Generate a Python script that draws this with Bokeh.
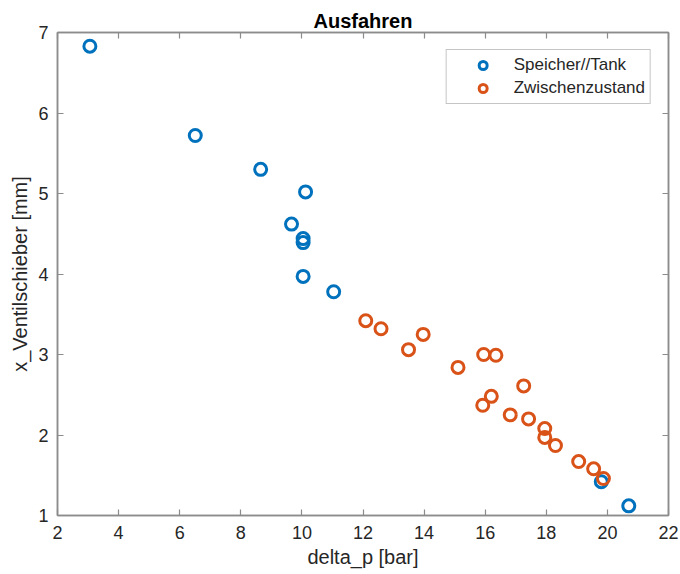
from bokeh.plotting import figure
from bokeh.models import Range1d, LinearAxis, FixedTicker, Legend, LegendItem
from bokeh.embed import file_html
from bokeh.resources import INLINE

# Data
tank_dp = [3.06, 6.51, 8.65, 10.12, 9.66, 10.04, 10.04, 10.04, 11.04, 19.80, 20.70]
tank_x = [6.83, 5.72, 5.30, 5.02, 4.62, 4.44, 4.39, 3.97, 3.78, 1.42, 1.12]

zw_dp = [12.09, 12.59, 13.49, 13.97, 15.11, 15.95, 16.35, 17.26, 16.20, 15.92,
         16.82, 17.42, 17.95, 17.95, 18.30, 19.06, 19.55, 19.87]
zw_x = [3.42, 3.32, 3.06, 3.25, 2.84, 3.00, 2.99, 2.61, 2.48, 2.37,
        2.25, 2.20, 2.08, 1.97, 1.87, 1.67, 1.58, 1.46]

x_ticks = [2, 4, 6, 8, 10, 12, 14, 16, 18, 20, 22]
y_ticks = [1, 2, 3, 4, 5, 6, 7]

BLUE = "#0072BD"
ORANGE = "#D95319"
FONT = "Liberation Sans"
AX = "#262626"
LINE = "#8c8c8c"

p = figure(width=680, height=574, output_backend="svg", toolbar_location=None,
           x_range=Range1d(2, 22), y_range=Range1d(1, 7),
           frame_width=611, frame_height=483,
           min_border_left=57, min_border_right=12, min_border_top=32, min_border_bottom=59,
           title="Ausfahren")
p.title.align = "center"
p.title.text_font = FONT
p.title.text_font_size = "20px"
p.title.text_font_style = "bold"
p.title.text_color = "#000000"
p.title.offset = 0
p.title.standoff = 1
p.grid.visible = False
p.outline_line_color = LINE
p.outline_line_width = 1.5
p.background_fill_color = "white"
p.border_fill_color = "white"

def style_axis(ax):
    ax.axis_line_color = LINE
    ax.axis_line_width = 1.5
    ax.major_tick_in = 6
    ax.major_tick_out = 0
    ax.major_tick_line_color = LINE
    ax.major_tick_line_width = 1.2
    ax.minor_tick_line_color = None
    ax.major_label_text_font = FONT
    ax.major_label_text_font_size = "18px"
    ax.major_label_text_color = AX
    ax.axis_label_text_font = FONT
    ax.axis_label_text_font_size = "20px"
    ax.axis_label_text_font_style = "normal"
    ax.axis_label_text_color = AX

p.xaxis.ticker = FixedTicker(ticks=x_ticks)
p.yaxis.ticker = FixedTicker(ticks=y_ticks)
p.xaxis.axis_label = "delta_p [bar]"
p.yaxis.axis_label = "x_Ventilschieber [mm]"
style_axis(p.xaxis[0])
style_axis(p.yaxis[0])
p.xaxis.major_label_standoff = 10
p.yaxis.major_label_standoff = 9
p.xaxis.axis_label_standoff = 4
p.yaxis.axis_label_standoff = 4

top = LinearAxis(ticker=FixedTicker(ticks=x_ticks))
style_axis(top)
top.major_label_overrides = {t: "" for t in x_ticks}
top.major_label_standoff = 0
p.add_layout(top, "above")
right = LinearAxis(ticker=FixedTicker(ticks=y_ticks))
style_axis(right)
right.major_label_overrides = {t: "" for t in y_ticks}
right.major_label_standoff = 0
p.add_layout(right, "right")

r1 = p.scatter(tank_dp, tank_x, marker="circle", size=12, fill_color=None,
               line_color=BLUE, line_width=3)
r2 = p.scatter(zw_dp, zw_x, marker="circle", size=12, fill_color=None,
               line_color=ORANGE, line_width=3)

legend = Legend(items=[LegendItem(label="Speicher//Tank", renderers=[r1]),
                       LegendItem(label="Zwischenzustand", renderers=[r2])],
                location="top_right")
legend.label_text_font = FONT
legend.label_text_font_size = "17px"
legend.label_text_color = AX
legend.border_line_color = LINE
legend.border_line_width = 1.2
legend.margin = 17
legend.padding = 5
legend.spacing = 3
legend.label_height = 20
legend.glyph_height = 20
legend.glyph_width = 62
legend.label_standoff = 0
p.add_layout(legend, "center")

open("out.html", "w").write(file_html(p, INLINE))
